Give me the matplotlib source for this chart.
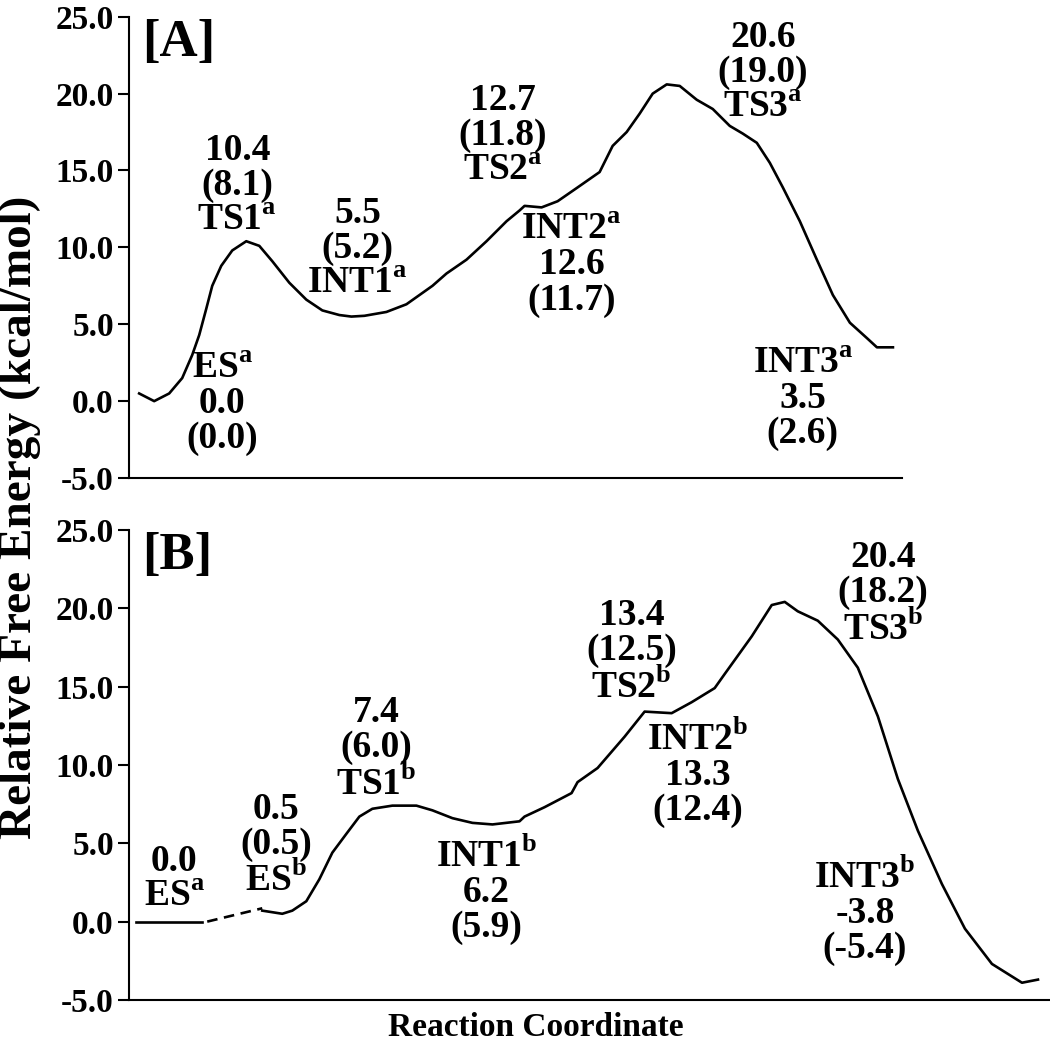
import matplotlib
matplotlib.use('Agg')
import matplotlib.pyplot as plt

plt.rcParams['font.family'] = ['Liberation Serif', 'DejaVu Serif']
plt.rcParams['font.weight'] = 'bold'
plt.rcParams['mathtext.fontset'] = 'custom'
plt.rcParams['mathtext.rm'] = 'Liberation Serif:bold'
plt.rcParams['mathtext.bf'] = 'Liberation Serif:bold'

# panel A profile (reaction coordinate, kcal/mol)
rxn_a = [140, 155, 170, 183, 193, 200, 207, 213, 222, 233, 247, 260, 273, 290, 307,
         323, 340, 352, 365, 387, 407, 433, 447, 467, 487, 507, 520, 525, 542, 558,
         578, 600, 613, 627, 640, 653, 667, 680, 697, 713, 730, 743, 757, 770, 783,
         800, 817, 833, 850, 867, 877, 893]
e_a = [0.5, 0.0, 0.5, 1.5, 3.0, 4.3, 6.0, 7.5, 8.8, 9.8, 10.4, 10.1, 9.1, 7.7, 6.6,
       5.9, 5.6, 5.5, 5.55, 5.8, 6.3, 7.5, 8.3, 9.2, 10.4, 11.7, 12.4, 12.7, 12.6, 13.0,
       13.9, 14.9, 16.6, 17.5, 18.7, 20.0, 20.6, 20.5, 19.6, 19.0, 17.9, 17.4, 16.8, 15.5, 13.9,
       11.7, 9.2, 6.9, 5.1, 4.1, 3.5, 3.5]

# panel B profile
rxn_b = [263, 283, 293, 307, 320, 333, 347, 360, 373, 393, 417, 433, 453, 473, 493,
         520, 525, 545, 572, 578, 598, 625, 645, 672, 692, 715, 725, 752, 772, 785,
         798, 818, 838, 858, 878, 898, 918, 942, 965, 992, 1022, 1038]
e_b = [0.7, 0.5, 0.7, 1.3, 2.7, 4.4, 5.6, 6.7, 7.2, 7.4, 7.4, 7.1, 6.6, 6.3, 6.2,
       6.4, 6.7, 7.3, 8.2, 8.9, 9.8, 11.8, 13.4, 13.3, 14.0, 14.9, 15.8, 18.2, 20.2, 20.4,
       19.8, 19.2, 18.0, 16.2, 13.1, 9.1, 5.8, 2.4, -0.45, -2.7, -3.9, -3.7]
esa_rxn = [137, 203]
esa_e = [0.0, 0.0]
link_rxn = [208, 263]
link_e = [0.0, 0.85]

yticks = [-5, 0, 5, 10, 15, 20, 25]

# labels: (text, x, y)
labels_a = [
    ('ES$^{\\mathrm{a}}$\n0.0\n(0.0)', 223, -0.15),
    ('10.4\n(8.1)\nTS1$^{\\mathrm{a}}$', 238, 14.0),
    ('5.5\n(5.2)\nINT1$^{\\mathrm{a}}$', 358, 9.9),
    ('12.7\n(11.8)\nTS2$^{\\mathrm{a}}$', 503, 17.3),
    ('INT2$^{\\mathrm{a}}$\n12.6\n(11.7)', 572, 8.85),
    ('20.6\n(19.0)\nTS3$^{\\mathrm{a}}$', 763, 21.4),
    ('INT3$^{\\mathrm{a}}$\n3.5\n(2.6)', 803, 0.17),
]
labels_b = [
    ('0.0\nES$^{\\mathrm{a}}$', 175, 2.7),
    ('0.5\n(0.5)\nES$^{\\mathrm{b}}$', 277, 4.85),
    ('7.4\n(6.0)\nTS1$^{\\mathrm{b}}$', 377, 11.0),
    ('INT1$^{\\mathrm{b}}$\n6.2\n(5.9)', 487, 1.95),
    ('13.4\n(12.5)\nTS2$^{\\mathrm{b}}$', 632, 17.2),
    ('INT2$^{\\mathrm{b}}$\n13.3\n(12.4)', 698, 9.4),
    ('20.4\n(18.2)\nTS3$^{\\mathrm{b}}$', 883, 20.9),
    ('INT3$^{\\mathrm{b}}$\n-3.8\n(-5.4)', 865, 0.6),
]

fig = plt.figure(figsize=(10.5, 10.46), dpi=100)
ax_a = fig.add_axes([0.123, 0.543, 0.736, 0.441])
ax_b = fig.add_axes([0.123, 0.044, 0.877, 0.4495])


def style(ax, xmax):
    ax.set_xlim(130, xmax)
    ax.set_ylim(-5, 25)
    ax.set_yticks(yticks)
    ax.set_yticklabels(['%.1f' % t for t in yticks])
    ax.set_xticks([])
    for s in ['top', 'right']:
        ax.spines[s].set_visible(False)
    for s in ['left', 'bottom']:
        ax.spines[s].set_linewidth(1.5)
    ax.tick_params(axis='y', direction='out', length=8, width=1.5,
                   labelsize=24, pad=3)
    for lab in ax.get_yticklabels():
        lab.set_fontweight('bold')


style(ax_a, 902)
style(ax_b, 1050)

ax_a.plot(rxn_a, e_a, color='black', lw=1.9, solid_joinstyle='round')
ax_b.plot(rxn_b, e_b, color='black', lw=1.9, solid_joinstyle='round')
ax_b.plot(esa_rxn, esa_e, color='black', lw=1.9)
ax_b.plot(link_rxn, link_e, color='black', lw=1.9, ls=(0, (4, 2.5)))

for txt, x, y in labels_a:
    ax_a.text(x, y, txt, ha='center', va='center', fontsize=27,
              fontweight='bold', linespacing=1.0)
for txt, x, y in labels_b:
    ax_b.text(x, y, txt, ha='center', va='center', fontsize=27,
              fontweight='bold', linespacing=1.0)

ax_a.text(143, 23.3, '[A]', ha='left', va='center', fontsize=38, fontweight='bold')
ax_b.text(143, 23.3, '[B]', ha='left', va='center', fontsize=38, fontweight='bold')

fig.text(0.019, 0.505, 'Relative Free Energy (kcal/mol)', rotation=90,
         ha='center', va='center', fontsize=34, fontweight='bold')
fig.text(0.51, 0.018, 'Reaction Coordinate', ha='center', va='center',
         fontsize=24, fontweight='bold')

fig.savefig('out.png', dpi=100)
